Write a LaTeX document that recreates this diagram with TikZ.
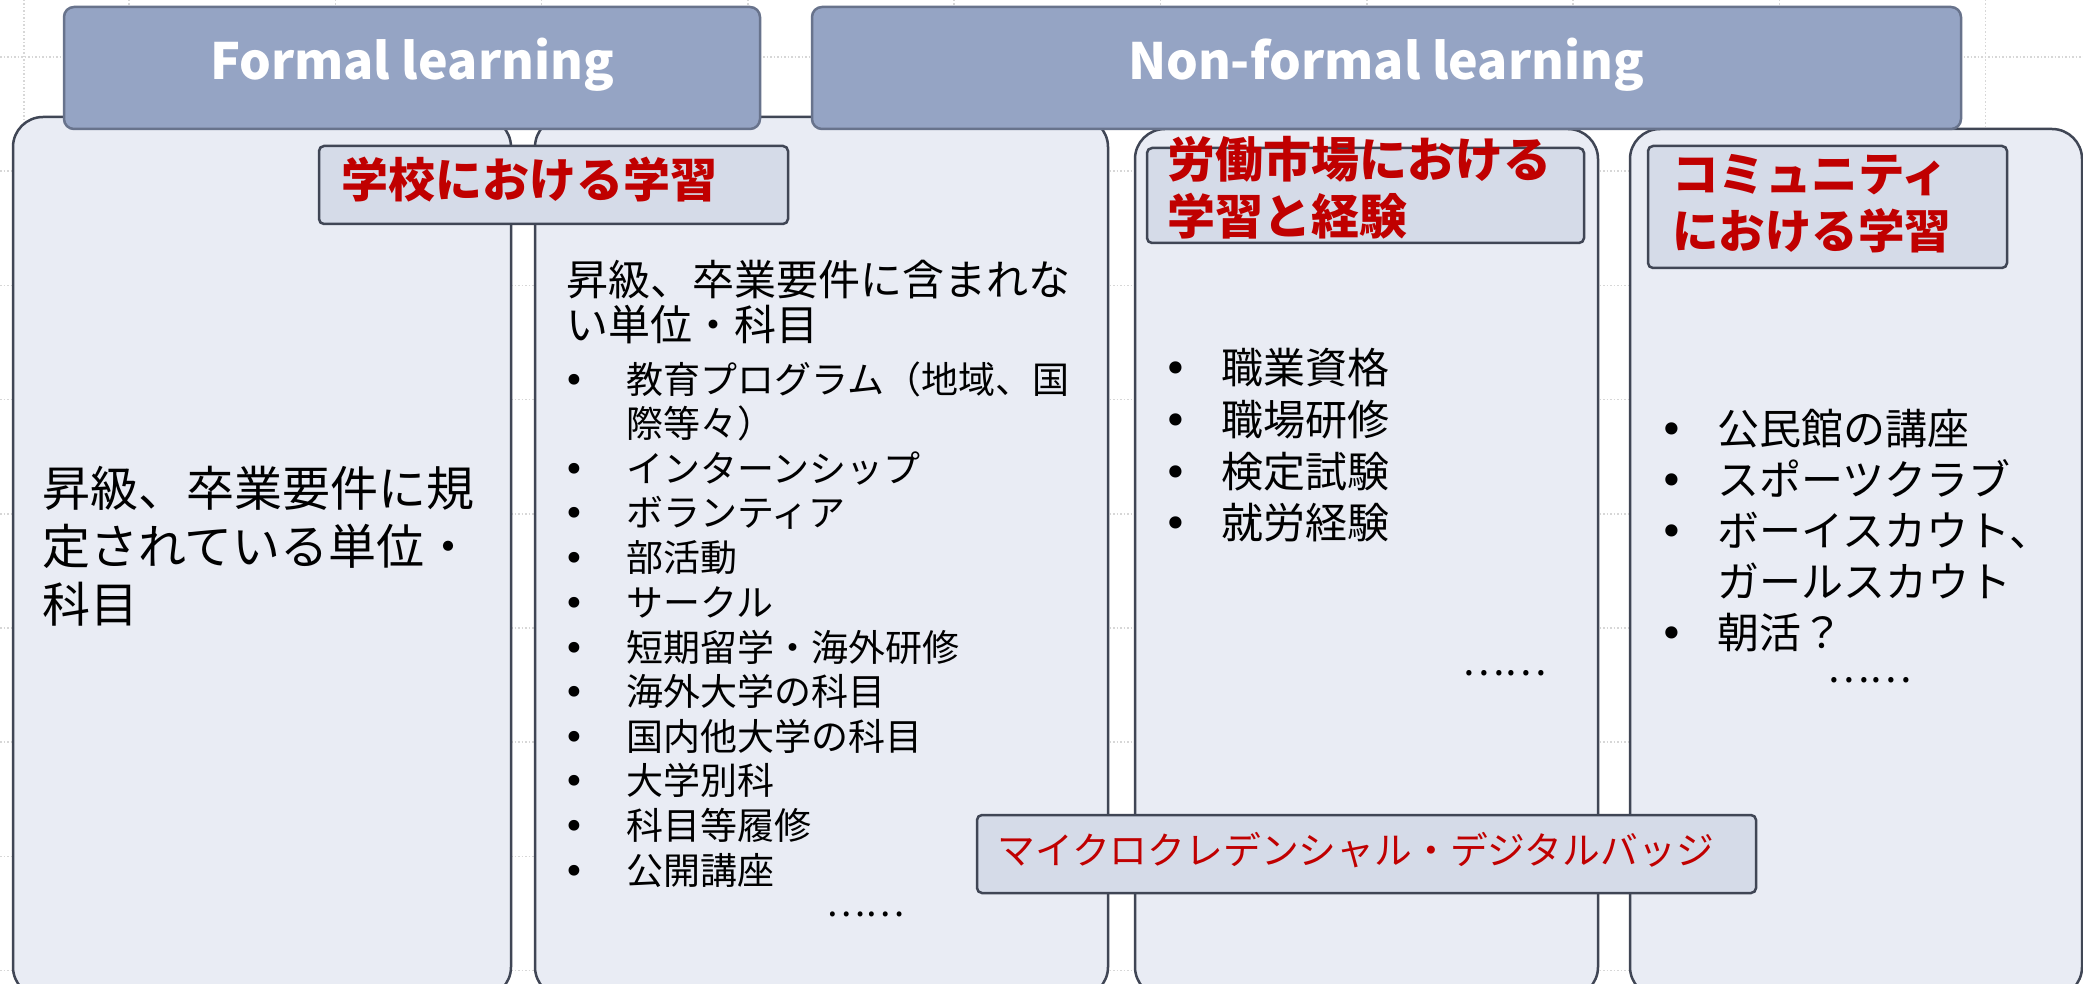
\documentclass[tikz,border=0pt]{standalone}
\usepackage{fontspec}
\setmainfont{Noto Sans CJK JP}
\newfontfamily\dv{DejaVu Sans}
\definecolor{hdrfill}{RGB}{149,164,196}
\definecolor{hdredge}{RGB}{104,115,140}
\definecolor{boxfill}{RGB}{233,236,244}
\definecolor{subfill}{RGB}{213,219,232}
\definecolor{edgec}{RGB}{64,70,85}
\definecolor{redc}{RGB}{192,0,0}
\definecolor{gridc}{RGB}{215,215,215}
\newcommand{\bl}[2]{\makebox[#1][l]{\dv\raisebox{0pt}{•}}#2}
\tikzset{
  gridline/.style={draw=gridc, line width=1.5pt, dash pattern=on 1.5pt off 2pt},
  bigbox/.style={draw=edgec, fill=boxfill, line width=2.5pt, rounded corners=30pt, anchor=north west, inner sep=0pt, outer sep=0pt},
  hdrbox/.style={draw=hdredge, fill=hdrfill, line width=2.5pt, rounded corners=10pt, anchor=north west, inner sep=0pt, outer sep=0pt},
  subbox/.style={draw=edgec, fill=subfill, line width=2.5pt, rounded corners=5pt, anchor=north west, inner sep=0pt, outer sep=0pt},
  hdrtxt/.style={anchor=base, inner sep=0pt, text=white, font=\fontsize{50}{56}\selectfont\bfseries},
  redtxt/.style={anchor=base west, inner sep=0pt, text=redc, font=\fontsize{#1}{#1}\selectfont\bfseries},
  txt/.style={anchor=base west, inner sep=0pt, text=black, font=\fontsize{#1}{#1}\selectfont},
}
\begin{document}
\begin{tikzpicture}[x=1pt,y=-1pt]
\useasboundingbox[fill=white] (0,0) rectangle (2083,984);
\begin{scope}
\clip (0,0) rectangle (2083,984);
% grid
\draw[gridline] (24,0) -- (24,984);
\foreach \k in {0,...,9} {\draw[gridline] ({129+206.3*\k},0) -- ({129+206.3*\k},984);}
\foreach \k in {0,...,8} {\draw[gridline] (0,{57+114.2*\k}) -- (2083,{57+114.2*\k});}
% big boxes
\node[bigbox, minimum width=498pt, minimum height=880pt] (b1) at (13,117) {};
\node[bigbox, minimum width=573pt, minimum height=880pt] (b2) at (535,117) {};
\node[bigbox, minimum width=463pt, minimum height=868pt] (b3) at (1135,129) {};
\node[bigbox, minimum width=452pt, minimum height=868pt] (b4) at (1630,129) {};
\end{scope}
% headers
\node[hdrbox, minimum width=696pt, minimum height=122pt] (h1) at (64,7) {};
\node[hdrbox, minimum width=1149pt, minimum height=122pt] (h2) at (812,7) {};
\node[hdrtxt] (h1t) at (412,80) {Formal learning};
\node[hdrtxt] (h2t) at (1386,80) {Non-formal learning};
% sub boxes
\node[subbox, minimum width=469pt, minimum height=78pt] (s1) at (319,146) {};
\node[subbox, minimum width=437pt, minimum height=95pt] (s2) at (1147,148) {};
\node[subbox, minimum width=359pt, minimum height=122pt] (s3) at (1648,146) {};
\node[subbox, minimum width=779pt, minimum height=78pt] (s4) at (977,815) {};
\node[redtxt=47] (s1t) at (341,198) {学校における学習};
\node[redtxt=48] (s2t1) at (1167,178) {労働市場における};
\node[redtxt=48] (s2t2) at (1167,235) {学習と経験};
\node[redtxt=46.5] (s3t1) at (1672,192) {コミュニティ};
\node[redtxt=46.5] (s3t2) at (1672,249) {における学習};
\node[anchor=base west, inner sep=0pt, text=redc, font=\fontsize{37.8}{40}\selectfont] (s4t) at (997,864) {マイクロクレデンシャル・デジタルバッジ};
% box 1 text
\node[txt=48] (b1l1) at (42,506) {昇級、卒業要件に規};
\node[txt=48] (b1l2) at (42,564) {定されている単位・};
\node[txt=48] (b1l3) at (42,622) {科目};
% box 2 text
\node[txt=42] (b2h1) at (566,296) {昇級、卒業要件に含まれな};
\node[txt=42] (b2h2) at (566,341) {い単位・科目};
\foreach \t/\y [count=\i] in {教育プログラム（地域、国/393, インターンシップ/482, ボランティア/526, 部活動/571, サークル/616, 短期留学・海外研修/661, 海外大学の科目/705, 国内他大学の科目/750, 大学別科/794, 科目等履修/839, 公開講座/884}
  {\node[txt=37] (b2i\i) at (563,\y) {\bl{63pt}{\t}};}
\node[txt=37] (b2w) at (626,437) {際等々）};
\node[txt=37] (b2e) at (826,916) {……};
% box 3 text
\foreach \t/\y [count=\i] in {職業資格/383, 職場研修/435, 検定試験/487, 就労経験/538}
  {\node[txt=42] (b3i\i) at (1163,\y) {\bl{58pt}{\t}};}
\node[txt=40] (b3e) at (1462,675) {……};
% box 4 text
\node[txt=42] (b4i1) at (1659,444) {\bl{58pt}{公民館の講座}};
\node[txt=42] (b4i2) at (1659,495) {\bl{58pt}{スポーツクラブ}};
\node[txt=42] (b4i3) at (1659,546) {\bl{58pt}{ボーイスカウト、}};
\node[txt=42] (b4w) at (1717,597) {ガールスカウト};
\node[txt=42] (b4i4) at (1659,648) {\bl{58pt}{朝活？}};
\node[txt=40] (b4e) at (1827,682) {……};
\end{tikzpicture}
\end{document}
